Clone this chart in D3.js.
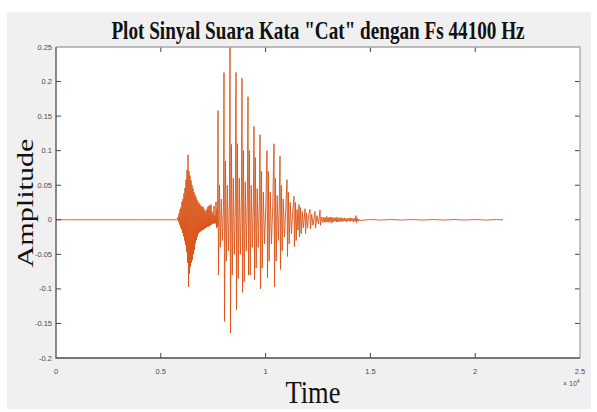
<!DOCTYPE html>
<html>
<head>
<meta charset="utf-8">
<script src="https://cdn.jsdelivr.net/npm/d3@7"></script>
<style>
  html, body { margin: 0; padding: 0; background: #fff; }
  svg { display: block; }
</style>
</head>
<body>
<svg id="chart" width="597" height="412"></svg>
<script>
// axis ticks
var xTicks = [0, 5000, 10000, 15000, 20000, 25000];
var xTickLabels = ["0", "0.5", "1", "1.5", "2", "2.5"];
var yTicks = [-0.2, -0.15, -0.1, -0.05, 0, 0.05, 0.1, 0.15, 0.2, 0.25];
var yTickLabels = ["-0.2", "-0.15", "-0.1", "-0.05", "0", "0.05", "0.1", "0.15", "0.2", "0.25"];

// signal, [sample, amplitude]
var silence = [[0, 0], [2000, 0], [4000, 0], [5800, 0]];

var burst = [
  [5821, 0.004], [5845, -0.003], [5868, 0.009], [5892, -0.007],
  [5916, 0.015], [5940, -0.011], [5964, 0.018], [5988, -0.014],
  [6011, 0.026], [6035, -0.019], [6059, 0.03], [6083, -0.024],
  [6107, 0.038], [6131, -0.03], [6155, 0.046], [6178, -0.036],
  [6202, 0.058], [6226, -0.046], [6250, 0.072], [6274, -0.062],
  [6298, 0.094], [6322, -0.097], [6345, 0.07], [6369, -0.078],
  [6393, 0.064], [6417, -0.068], [6441, 0.057], [6465, -0.062],
  [6489, 0.05], [6512, -0.058], [6536, 0.045], [6560, -0.05],
  [6584, 0.04], [6608, -0.044], [6632, 0.036], [6656, -0.034],
  [6679, 0.033], [6703, -0.029], [6727, 0.029], [6751, -0.024],
  [6775, 0.026], [6799, -0.02], [6823, 0.024], [6846, -0.018],
  [6870, 0.022], [6894, -0.017], [6918, 0.02], [6942, -0.016],
  [6966, 0.019], [6990, -0.015], [7013, 0.019], [7037, -0.014],
  [7061, 0.016], [7085, -0.013], [7109, 0.013], [7133, -0.012],
  [7157, 0.012], [7180, -0.011], [7204, 0.016], [7228, -0.01],
  [7252, 0.019], [7276, -0.01], [7300, 0.02], [7324, -0.009],
  [7347, 0.021], [7371, -0.008], [7395, 0.022], [7419, -0.007],
  [7443, 0.012], [7467, -0.006], [7491, 0.008], [7514, -0.005],
  [7538, 0.02], [7562, -0.006], [7586, 0.006], [7610, -0.005],
  [7634, 0.026], [7658, -0.012], [7682, 0.015], [7705, -0.01]
];

var voiced = [
  [7729, 0.158], [7750, -0.08], [7800, 0.05], [7840, -0.04], [7890, 0.03], [7940, -0.03], [7990, 0.02],
  [8015, 0.213], [8040, -0.147], [8085, 0.085], [8125, -0.06], [8175, 0.05], [8225, -0.045], [8275, 0.03],
  [8302, 0.25], [8325, -0.164], [8370, 0.109], [8410, -0.08], [8460, 0.06], [8510, -0.05], [8560, 0.03],
  [8588, 0.213], [8612, -0.13], [8655, 0.11], [8695, -0.085], [8745, 0.06], [8795, -0.05], [8845, 0.03],
  [8874, 0.205], [8898, -0.105], [8940, 0.1], [8980, -0.09], [9030, 0.055], [9080, -0.045], [9130, 0.03],
  [9160, 0.178], [9185, -0.08], [9225, 0.1], [9265, -0.08], [9315, 0.05], [9365, -0.04], [9415, 0.025],
  [9447, 0.135], [9470, -0.087], [9510, 0.09], [9550, -0.07], [9600, 0.045], [9650, -0.04], [9700, 0.025],
  [9733, 0.123], [9757, -0.1], [9800, 0.07], [9840, -0.07], [9890, 0.04], [9950, -0.035], [10010, 0.02],
  [10067, 0.1], [10090, -0.084], [10130, 0.07], [10170, -0.06], [10220, 0.04], [10280, -0.035], [10340, 0.02],
  [10401, 0.11], [10425, -0.097], [10465, 0.06], [10505, -0.06], [10555, 0.035], [10610, -0.03], [10650, 0.02],
  [10687, 0.092], [10710, -0.072], [10750, 0.05], [10790, -0.045], [10840, 0.03], [10900, -0.025], [10960, 0.015],
  [11021, 0.058], [11045, -0.053], [11085, 0.04], [11125, -0.035], [11175, 0.025], [11235, -0.02], [11295, 0.012],
  [11355, 0.034], [11378, -0.039], [11420, 0.025], [11460, -0.03], [11500, 0.015], [11545, -0.015],
  [11594, 0.022], [11617, -0.025], [11660, 0.018], [11700, -0.02], [11750, 0.012], [11800, -0.012]
];

var decay = [
  [11880, 0.016], [11905, -0.02], [11950, 0.01], [12000, -0.012], [12060, 0.008],
  [12118, 0.015], [12140, -0.013], [12200, 0.008], [12260, -0.008],
  [12357, 0.012], [12380, -0.012], [12450, 0.006], [12520, -0.006],
  [12596, 0.014], [12620, -0.008], [12680, 0.004]
];

var tail = [
  [12739, -0.004], [12775, 0.004], [12810, -0.003], [12845, 0.003], [12880, -0.004],
  [12915, 0.005], [12950, -0.003], [12985, 0.003], [13020, -0.004], [13055, 0.004],
  [13090, -0.003], [13125, 0.004], [13160, -0.005], [13195, 0.003], [13230, -0.003],
  [13265, 0.003], [13300, -0.002], [13335, 0.003], [13370, -0.003], [13405, 0.004],
  [13440, -0.003], [13475, 0.002], [13510, -0.003], [13545, 0.003], [13580, -0.002],
  [13615, 0.003], [13650, -0.003], [13685, 0.002], [13720, -0.002], [13755, 0.003],
  [13790, -0.002], [13825, 0.002], [13860, -0.003], [13895, 0.002], [13930, -0.002],
  [13965, 0.002], [14000, -0.002], [14035, 0.003], [14070, -0.002], [14105, 0.002],
  [14140, -0.002], [14175, 0.002], [14210, -0.003], [14245, 0.002], [14280, -0.002],
  [14313, 0.006], [14340, -0.004], [14375, 0.002], [14410, -0.002], [14445, 0.001],
  [14480, -0.001], [15000, 0.0004], [15500, -0.0004], [16000, 0.0004], [16500, -0.0004],
  [17000, 0.0004], [17500, -0.0004], [18000, 0.0004], [18500, -0.0004], [19000, 0.0004],
  [19500, -0.0004], [20000, 0.0004], [20500, -0.0004], [21000, 0.0003], [21326, 0]
];

var signal = silence.concat(burst, voiced, decay, tail);

// layout
var svg = d3.select("#chart");
var plot = {left: 56, right: 580, top: 47, bottom: 358};

// grey figure background
svg.append("rect")
  .attr("x", 7).attr("y", 12)
  .attr("width", 584).attr("height", 397)
  .attr("fill", "#f0f0f0");

svg.append("rect")
  .attr("x", plot.left).attr("y", plot.top)
  .attr("width", plot.right - plot.left).attr("height", plot.bottom - plot.top)
  .attr("fill", "#fff");

var x = d3.scaleLinear().domain([0, 25000]).range([plot.left, plot.right]);
var y = d3.scaleLinear().domain([-0.2, 0.25]).range([plot.bottom, plot.top]);

// waveform
var line = d3.line()
  .x(function(d){ return x(d[0]); })
  .y(function(d){ return y(d[1]); });

svg.append("path")
  .datum(signal)
  .attr("d", line)
  .attr("fill", "none")
  .attr("stroke", "#D95319")
  .attr("stroke-width", 0.9)
  .attr("stroke-linejoin", "miter");

// axes, ticks point inward like matlab
var tickLen = 5;
var gAxes = svg.append("g");

gAxes.selectAll("line.xtb")
  .data(xTicks.slice(1, -1))
  .enter().append("line")
  .attr("x1", function(d){ return x(d); }).attr("x2", function(d){ return x(d); })
  .attr("y1", plot.bottom).attr("y2", plot.bottom - tickLen)
  .attr("stroke", "#404040").attr("stroke-width", 1);

gAxes.selectAll("line.xtt")
  .data(xTicks.slice(1, -1))
  .enter().append("line")
  .attr("x1", function(d){ return x(d); }).attr("x2", function(d){ return x(d); })
  .attr("y1", plot.top).attr("y2", plot.top + tickLen)
  .attr("stroke", "#404040").attr("stroke-width", 1);

gAxes.selectAll("line.ytl")
  .data(yTicks.slice(1, -1))
  .enter().append("line")
  .attr("x1", plot.left).attr("x2", plot.left + tickLen)
  .attr("y1", function(d){ return y(d); }).attr("y2", function(d){ return y(d); })
  .attr("stroke", "#404040").attr("stroke-width", 1);

gAxes.selectAll("line.ytr")
  .data(yTicks.slice(1, -1))
  .enter().append("line")
  .attr("x1", plot.right).attr("x2", plot.right - tickLen)
  .attr("y1", function(d){ return y(d); }).attr("y2", function(d){ return y(d); })
  .attr("stroke", "#404040").attr("stroke-width", 1);

// box
gAxes.append("path")
  .attr("d", "M" + plot.left + "," + plot.top + "H" + plot.right + "V" + plot.bottom)
  .attr("fill", "none").attr("stroke", "#a6a6a6").attr("stroke-width", 1.3);
gAxes.append("path")
  .attr("d", "M" + plot.left + "," + plot.top + "V" + plot.bottom + "H" + plot.right)
  .attr("fill", "none").attr("stroke", "#4d4d4d").attr("stroke-width", 1.3);

// tick labels
svg.selectAll("text.xl")
  .data(xTicks)
  .enter().append("text")
  .attr("x", function(d){ return x(d); })
  .attr("y", 374)
  .attr("text-anchor", "middle")
  .attr("font-family", "Liberation Sans, Arial, sans-serif")
  .attr("font-size", 7.5)
  .attr("fill", "#4a4a4a")
  .text(function(d, i){ return xTickLabels[i]; });

svg.selectAll("text.yl")
  .data(yTicks)
  .enter().append("text")
  .attr("x", plot.left - 4)
  .attr("y", function(d){ return y(d) + 2.5; })
  .attr("text-anchor", "end")
  .attr("font-family", "Liberation Sans, Arial, sans-serif")
  .attr("font-size", 7.5)
  .attr("fill", "#4a4a4a")
  .text(function(d, i){ return yTickLabels[i]; });

// exponent label
var expo = svg.append("text")
  .attr("x", 563).attr("y", 386)
  .attr("font-family", "Liberation Sans, Arial, sans-serif")
  .attr("font-size", 7)
  .attr("fill", "#4a4a4a");
expo.append("tspan").text("\u00d7 10");
expo.append("tspan").attr("dy", -3).attr("font-size", 5).text("4");

// title and axis labels (the reference is squeezed sideways)
svg.append("text")
  .attr("transform", "translate(318,39) scale(0.75,1)")
  .attr("text-anchor", "middle")
  .attr("font-family", "Liberation Serif, Times New Roman, serif")
  .attr("font-weight", "bold")
  .attr("font-size", 25)
  .attr("textLength", 551)
  .attr("lengthAdjust", "spacingAndGlyphs")
  .attr("fill", "#111")
  .text('Plot Sinyal Suara Kata "Cat" dengan Fs 44100 Hz');

svg.append("text")
  .attr("transform", "translate(33,203) scale(0.75,1) rotate(-90)")
  .attr("text-anchor", "middle")
  .attr("font-family", "Liberation Serif, Times New Roman, serif")
  .attr("font-size", 30)
  .attr("textLength", 129)
  .attr("lengthAdjust", "spacingAndGlyphs")
  .attr("fill", "#111")
  .text("Amplitude");

svg.append("text")
  .attr("x", 313).attr("y", 403)
  .attr("text-anchor", "middle")
  .attr("font-family", "Liberation Serif, Times New Roman, serif")
  .attr("font-size", 32)
  .attr("textLength", 55)
  .attr("lengthAdjust", "spacingAndGlyphs")
  .attr("fill", "#111")
  .text("Time");
</script>
</body>
</html>
